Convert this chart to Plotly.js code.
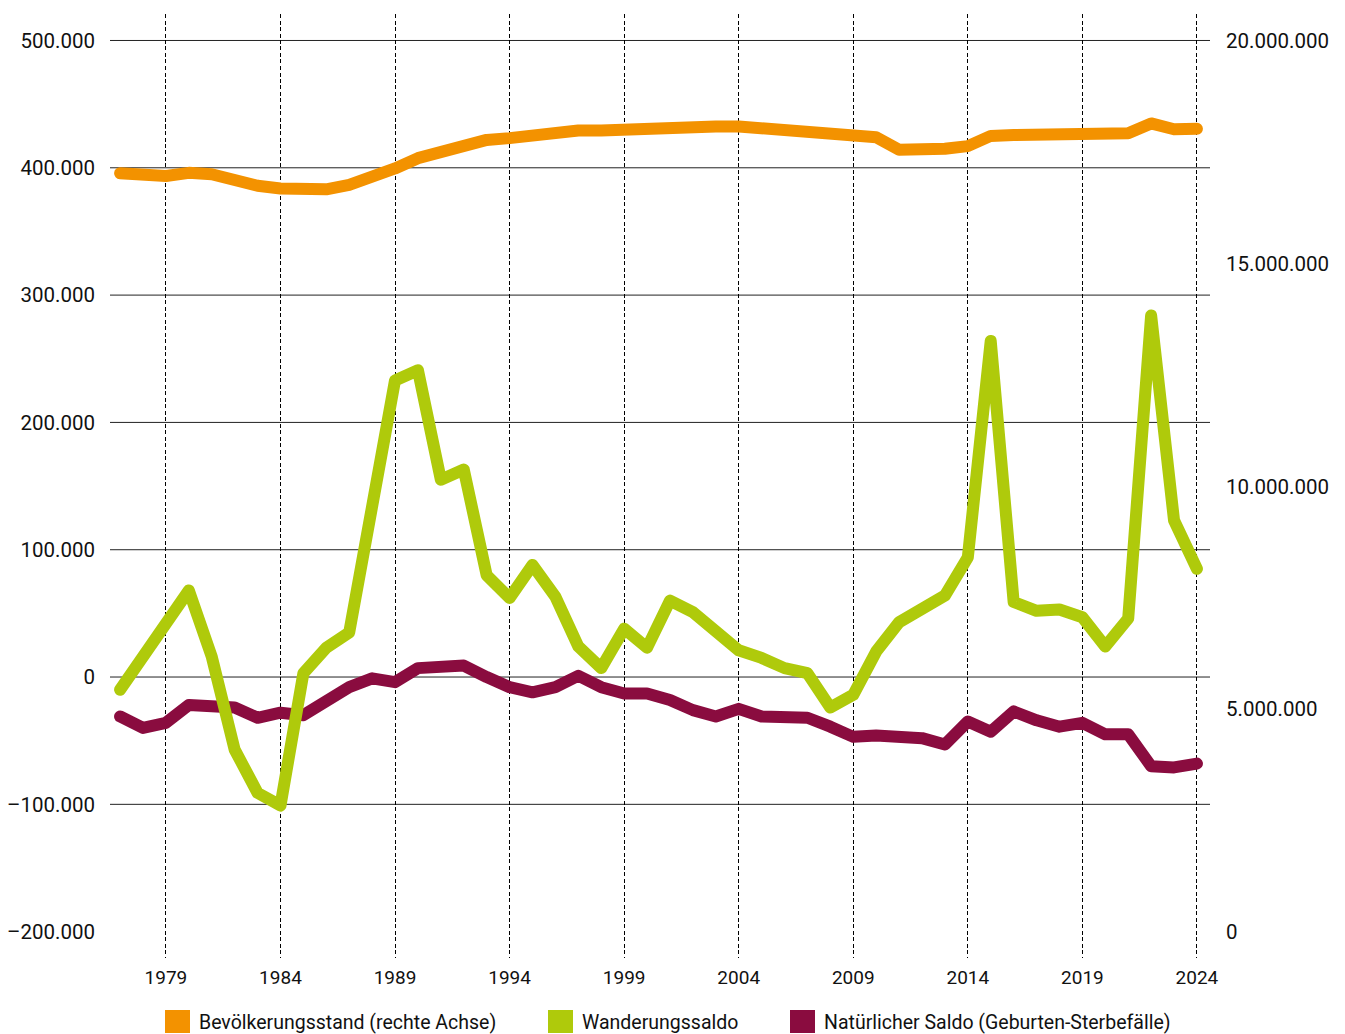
<!DOCTYPE html>
<html>
<head>
<meta charset="utf-8">
<script src="https://cdn.plot.ly/plotly-3.0.1.min.js"></script>
<style>
html,body{margin:0;padding:0;background:#fff;}
#chart{width:1345px;height:1034px;}
.scatterlayer path.js-line{stroke-linecap:round;stroke-linejoin:round;}
</style>
</head>
<body>
<div id="chart"></div>
<script>
const years = [1977,1978,1979,1980,1981,1982,1983,1984,1985,1986,1987,1988,1989,1990,1991,1992,1993,1994,1995,1996,1997,1998,1999,2000,2001,2002,2003,2004,2005,2006,2007,2008,2009,2010,2011,2012,2013,2014,2015,2016,2017,2018,2019,2020,2021,2022,2023,2024];

// Bevölkerungsstand (right axis)
const population = [17030000,16970000,16970000,17040000,17010000,16880000,16750000,16690000,16670000,16670000,16770000,16920000,17140000,17370000,17510000,17680000,17780000,17820000,17890000,17930000,17990000,17990000,18020000,18020000,18050000,18080000,18080000,18080000,18050000,18020000,17990000,17930000,17870000,17840000,17560000,17560000,17580000,17640000,17870000,17890000,17910000,17930000,17940000,17930000,17930000,18150000,18020000,18030000];

// Wanderungssaldo (left axis)
const migration = [-10000,16000,45000,68000,16000,-57000,-91000,-101000,3000,23000,35000,135000,233000,241000,155000,163000,80000,62000,88000,63000,24000,7000,38000,23000,60000,51000,35000,21000,15000,7000,3000,-24000,-14000,20000,43000,54000,64000,94000,264000,59000,52000,53000,47000,24000,46000,284000,123000,85000];

// Natürlicher Saldo (left axis)
const natural = [-31000,-40000,-36000,-22000,-23000,-24000,-32000,-28000,-30000,-18000,-8000,-1000,-4000,7000,7000,9000,0,-8000,-12000,-8000,1000,-8000,-13000,-13000,-18000,-26000,-31000,-25000,-31000,-32000,-32000,-39000,-47000,-46000,-46000,-48000,-53000,-35000,-43000,-27000,-34000,-39000,-36000,-45000,-45000,-70000,-71000,-68000];

const xTickVals = [1979,1984,1989,1994,1999,2004,2009,2014,2019,2024];
const leftTickVals = [500000,400000,300000,200000,100000,0,-100000,-200000];
const leftTickText = ['500.000','400.000','300.000','200.000','100.000','0','\u2013100.000','\u2013200.000'];
const leftGridVals = [500000,400000,300000,200000,100000,0,-100000];
const rightTickVals = [20000000,15000000,10000000,5000000,0];
const rightTickText = ['20.000.000','15.000.000','10.000.000','5.000.000','0'];

const seriesNames = ['Bevölkerungsstand (rechte Achse)','Wanderungssaldo','Natürlicher Saldo (Geburten-Sterbefälle)'];
const seriesColors = ['#F39200','#AFCA0B','#8A0C3F'];

const FONT = 'Roboto, "Noto Sans", sans-serif';
const TXT = '#111';

const traces = [
  {x: years, y: natural, type:'scatter', mode:'lines', yaxis:'y', line:{color:seriesColors[2], width:12}, name:seriesNames[2], showlegend:false, hoverinfo:'skip'},
  {x: years, y: migration, type:'scatter', mode:'lines', yaxis:'y', line:{color:seriesColors[1], width:12}, name:seriesNames[1], showlegend:false, hoverinfo:'skip'},
  {x: years, y: population, type:'scatter', mode:'lines', yaxis:'y2', line:{color:seriesColors[0], width:12}, name:seriesNames[0], showlegend:false, hoverinfo:'skip'}
];

const shapes = leftGridVals.map(v => ({type:'line', xref:'paper', x0:0, x1:1, yref:'y', y0:v, y1:v, line:{color:'#222', width:1}, layer:'below'}));

// legend (custom squares + labels)
const plotH = 1034 - 14 - 76;
const plotW = 1345 - 110 - 135;
const legendX = [165, 548, 790];
const annotations = [];
seriesNames.forEach((n, i) => {
  const px0 = (legendX[i] - 110) / plotW;
  const px1 = (legendX[i] + 25 - 110) / plotW;
  const py0 = -(1033 - 958) / plotH;
  const py1 = -(1010 - 958) / plotH;
  shapes.push({type:'rect', xref:'paper', yref:'paper', x0:px0, x1:px1, y0:py0, y1:py1, fillcolor:seriesColors[i], line:{width:0}});
  annotations.push({xref:'paper', yref:'paper', x:(legendX[i] + 32 - 110) / plotW, y:-(1022 - 958) / plotH, xanchor:'left', yanchor:'middle', text:n, showarrow:false, font:{family:FONT, size:19.5, color:TXT}});
});

const layout = {
  width:1345, height:1034,
  margin:{l:110, r:135, t:14, b:76},
  paper_bgcolor:'#fff', plot_bgcolor:'#fff',
  showlegend:false,
  font:{family:FONT, size:19, color:TXT},
  xaxis:{range:[1976.56, 2024.57], tickvals:xTickVals, ticktext:xTickVals.map(String), showgrid:true, gridcolor:'#000', gridwidth:1, griddash:'4px,2.5px', zeroline:false, showline:false, ticks:'', ticklabelstandoff:6, tickfont:{family:FONT, size:19, color:TXT}, fixedrange:true},
  yaxis:{range:[-220700, 520800], tickvals:leftTickVals, ticktext:leftTickText, showgrid:false, zeroline:false, showline:false, ticks:'', ticklabelstandoff:14, tickfont:{family:FONT, size:20.5, color:TXT}, fixedrange:true},
  yaxis2:{range:[-584000, 20606000], overlaying:'y', side:'right', tickvals:rightTickVals, ticktext:rightTickText, showgrid:false, zeroline:false, showline:false, ticks:'', ticklabelstandoff:15, tickfont:{family:FONT, size:20.5, color:TXT}, fixedrange:true},
  shapes:shapes,
  annotations:annotations
};

Plotly.newPlot('chart', traces, layout, {displayModeBar:false, staticPlot:true});
</script>
</body>
</html>
